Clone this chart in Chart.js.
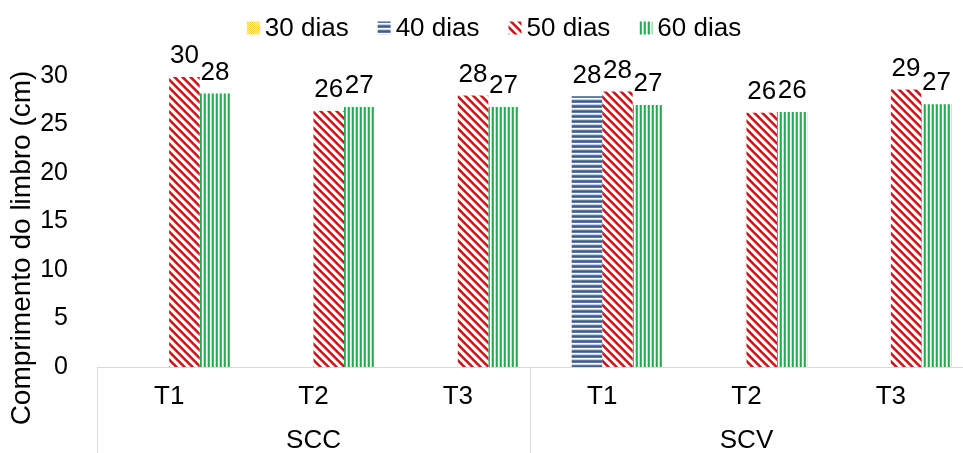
<!DOCTYPE html>
<html>
<head>
<meta charset="utf-8">
<script src="https://cdn.jsdelivr.net/npm/chart.js@4/dist/chart.umd.min.js"></script>
<style>
  html, body { margin: 0; padding: 0; background: #fff; }
  #wrap { width: 963px; height: 453px; }
</style>
</head>
<body>
<div id="wrap"><canvas id="c" width="963" height="453"></canvas></div>
<script>
// Treatments (first axis level) and cropping systems (second axis level)
const treatments = ['T1', 'T2', 'T3', 'T1', 'T2', 'T3'];
const systems = ['SCC', 'SCV'];
const seriesNames = ['30 dias', '40 dias', '50 dias', '60 dias'];
const yTitle = 'Comprimento do limbro (cm)';

// Leaf blade length (cm) per sampling date
const dias30 = [null, null, null, null, null, null];
const dias40 = [null, null, null, 27.9, null, null];
const dias50 = [29.9, 26.4, 28.0, 28.4, 26.2, 28.6];
const dias60 = [28.2, 26.8, 26.8, 27.0, 26.3, 27.1];

const yTicks = [0, 5, 10, 15, 20, 25, 30];

const FONT = 'Arial, "Liberation Sans", sans-serif';
const canvas = document.getElementById('c');
const mainCtx = canvas.getContext('2d');

// Hatch fills built pixel by pixel
function pattern(w, h, colorAt) {
  const pc = document.createElement('canvas');
  pc.width = w; pc.height = h;
  const g = pc.getContext('2d');
  for (let y = 0; y < h; y++) {
    for (let x = 0; x < w; x++) {
      g.fillStyle = colorAt(x, y);
      g.fillRect(x, y, 1, 1);
    }
  }
  return mainCtx.createPattern(pc, 'repeat');
}

const fill30 = pattern(4, 4, (x, y) => ((x + y) % 2 === 0 ? '#ffcc33' : '#fff4cf'));
const fill40 = pattern(5, 5, (x, y) => (y < 3 ? (y === 1 ? '#3e5c8a' : '#5c78a3') : (y === 3 ? '#ffffff' : '#c9d3e2')));
const fill50 = pattern(8, 8, (x, y) => {
  const d = ((x - y) % 8 + 8) % 8;
  return d < 4 ? (d === 0 || d === 3 ? '#e0474a' : '#cc1419') : '#ffffff';
});
const fill60 = pattern(4, 4, (x) => (x < 2 ? (x === 0 ? '#1fae55' : '#35c06a') : (x === 2 ? '#ffffff' : '#b9e8c9')));

const fills = [fill30, fill40, fill50, fill60];

// Legend drawn across the top
const legendPlugin = {
  id: 'topLegend',
  afterDraw(chart) {
    const ctx = chart.ctx;
    ctx.save();
    ctx.font = '26px ' + FONT;
    ctx.textBaseline = 'middle';
    ctx.textAlign = 'left';
    const box = 13, gap = 5, spacing = 29;
    const widths = seriesNames.map(n => box + gap + ctx.measureText(n).width);
    const total = widths.reduce((a, b) => a + b, 0) + spacing * (seriesNames.length - 1);
    let x = 494 - total / 2;
    const cy = 28;
    seriesNames.forEach((n, i) => {
      ctx.fillStyle = fills[i];
      ctx.fillRect(x, cy - box / 2, box, box);
      ctx.fillStyle = '#000';
      ctx.fillText(n, x + box + gap, cy + 1);
      x += widths[i] + spacing;
    });
    ctx.restore();
  }
};

// Value labels above each bar
const valueLabels = {
  id: 'valueLabels',
  afterDatasetsDraw(chart) {
    const ctx = chart.ctx;
    ctx.save();
    ctx.font = '26px ' + FONT;
    ctx.fillStyle = '#000';
    ctx.textAlign = 'center';
    ctx.textBaseline = 'bottom';
    chart.data.datasets.forEach((ds, di) => {
      const meta = chart.getDatasetMeta(di);
      meta.data.forEach((bar, i) => {
        const v = ds.data[i];
        if (v === null || v === undefined) return;
        ctx.fillText(String(Math.round(v)), bar.x, bar.y - 8);
      });
    });
    ctx.restore();
  }
};

// Second axis level (system names, group dividers) and the vertical axis title
const groupAxis = {
  id: 'groupAxis',
  afterDraw(chart) {
    const ctx = chart.ctx;
    const xs = chart.scales.x;
    const area = chart.chartArea;
    const per = treatments.length / systems.length;
    ctx.save();
    ctx.strokeStyle = '#d9d9d9';
    ctx.lineWidth = 1;
    const bounds = [];
    for (let g = 0; g <= systems.length; g++) {
      const px = xs.getPixelForValue(g * per - 0.5);
      bounds.push(px);
      if (g < systems.length) {
        const lx = Math.round(px) + 0.5;
        ctx.beginPath();
        ctx.moveTo(lx, area.bottom);
        ctx.lineTo(lx, chart.height);
        ctx.stroke();
      }
    }
    ctx.font = '26px ' + FONT;
    ctx.fillStyle = '#000';
    ctx.textAlign = 'center';
    ctx.textBaseline = 'middle';
    systems.forEach((s, g) => {
      ctx.fillText(s, (bounds[g] + bounds[g + 1]) / 2, 441);
    });

    ctx.translate(22, 248);
    ctx.rotate(-Math.PI / 2);
    ctx.font = '28px ' + FONT;
    ctx.fillText(yTitle, 0, 0);
    ctx.restore();
  }
};

const datasets = [dias30, dias40, dias50, dias60].map((d, i) => ({
  label: seriesNames[i],
  data: d,
  backgroundColor: fills[i],
  borderWidth: 0
}));

new Chart(canvas, {
  type: 'bar',
  data: { labels: treatments, datasets },
  options: {
    responsive: false,
    animation: false,
    devicePixelRatio: 1,
    layout: { padding: { top: 76, right: 0, left: 0, bottom: 0 } },
    datasets: { bar: { categoryPercentage: 0.845, barPercentage: 1.0 } },
    plugins: {
      legend: { display: false },
      tooltip: { enabled: false }
    },
    scales: {
      x: {
        grid: { display: false },
        border: { display: true, color: '#d9d9d9', width: 1 },
        ticks: { color: '#000', font: { family: FONT, size: 26 }, padding: 6, maxRotation: 0 },
        afterFit(s) { s.height = 86; }
      },
      y: {
        min: 0, max: 30,
        afterBuildTicks(s) { s.ticks = yTicks.map(v => ({ value: v })); },
        grid: { display: false },
        border: { display: false },
        ticks: { color: '#000', font: { family: FONT, size: 25 }, padding: 21 },
        afterFit(s) { s.width = 97; }
      }
    }
  },
  plugins: [legendPlugin, valueLabels, groupAxis]
});
</script>
</body>
</html>
